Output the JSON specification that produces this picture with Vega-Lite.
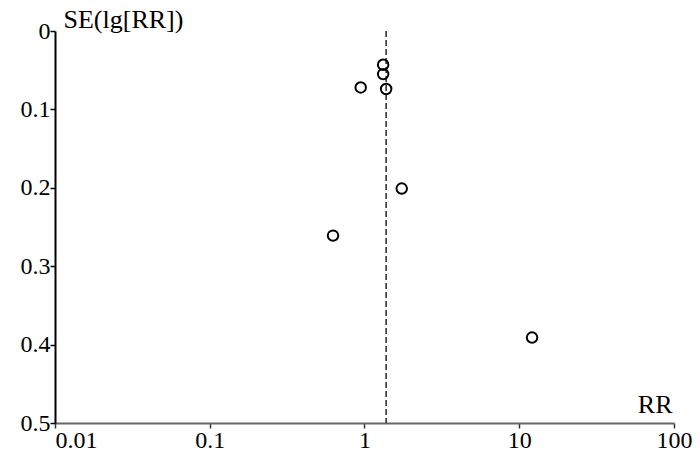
{
  "$schema": "https://vega.github.io/schema/vega-lite/v6.json",
  "width": 619,
  "height": 392,
  "autosize": {"type": "none"},
  "padding": {"left": 55, "top": 31, "right": 26, "bottom": 34},
  "background": "white",
  "config": {
    "view": {"stroke": null},
    "font": "Liberation Serif",
    "axis": {"grid": false, "labelFont": "Liberation Serif", "titleFont": "Liberation Serif", "labelColor": "black", "titleColor": "black", "titleFontWeight": "normal"}
  },
  "datasets": {
    "studies": [
      {"RR": 1.32, "SE": 0.043},
      {"RR": 1.32, "SE": 0.055},
      {"RR": 1.38, "SE": 0.074},
      {"RR": 0.945, "SE": 0.072},
      {"RR": 1.74, "SE": 0.201},
      {"RR": 0.626, "SE": 0.261},
      {"RR": 12.1, "SE": 0.391}
    ],
    "pooled": [{"RR": 1.38}]
  },
  "layer": [
    {
      "data": {"name": "pooled"},
      "mark": {"type": "rule", "color": "#333333", "strokeWidth": 1.6, "strokeDash": [6, 3]},
      "encoding": {
        "x": {"field": "RR", "type": "quantitative", "scale": {"type": "log", "domain": [0.01, 100]}}
      }
    },
    {
      "data": {"name": "studies"},
      "mark": {"type": "point", "shape": "circle", "filled": false, "color": "black", "strokeWidth": 2, "size": 110, "opacity": 1},
      "encoding": {
        "x": {
          "field": "RR", "type": "quantitative",
          "scale": {"type": "log", "domain": [0.01, 100], "nice": false},
          "axis": {
            "values": [0.01, 0.1, 1, 10, 100], "format": "~g",
            "domainColor": "#666666", "domainWidth": 2, "tickColor": "#333333", "tickWidth": 1.5, "tickSize": 5,
            "labelFontSize": 24, "labelPadding": 0, "labelFlush": false,
            "labelAlign": {"expr": "datum.value < 0.05 ? 'left' : 'center'"},
            "encode": {
              "ticks": {"update": {"y": {"value": -5}}}
            },
            "title": "RR", "titleFontSize": 26, "titleAlign": "right", "titleBaseline": "alphabetic",
            "titleX": 617, "titleY": -11, "titleAnchor": null
          }
        },
        "y": {
          "field": "SE", "type": "quantitative",
          "scale": {"domain": [0, 0.5], "reverse": true, "nice": false, "zero": false},
          "axis": {
            "values": [0, 0.1, 0.2, 0.3, 0.4, 0.5], "format": "~g",
            "domainColor": "black", "domainWidth": 2, "tickColor": "black", "tickWidth": 1.5, "tickSize": 5,
            "labelFontSize": 24, "labelPadding": 0, "labelFlush": false, "labelBaseline": "middle",
            "encode": {
              "ticks": {"update": {"x": {"value": 5}}}
            },
            "title": "SE(lg[RR])", "titleFontSize": 26, "titleAngle": 0, "titleAlign": "left", "titleBaseline": "alphabetic",
            "titleX": 8, "titleY": -4, "titleAnchor": null
          }
        }
      }
    }
  ]
}
